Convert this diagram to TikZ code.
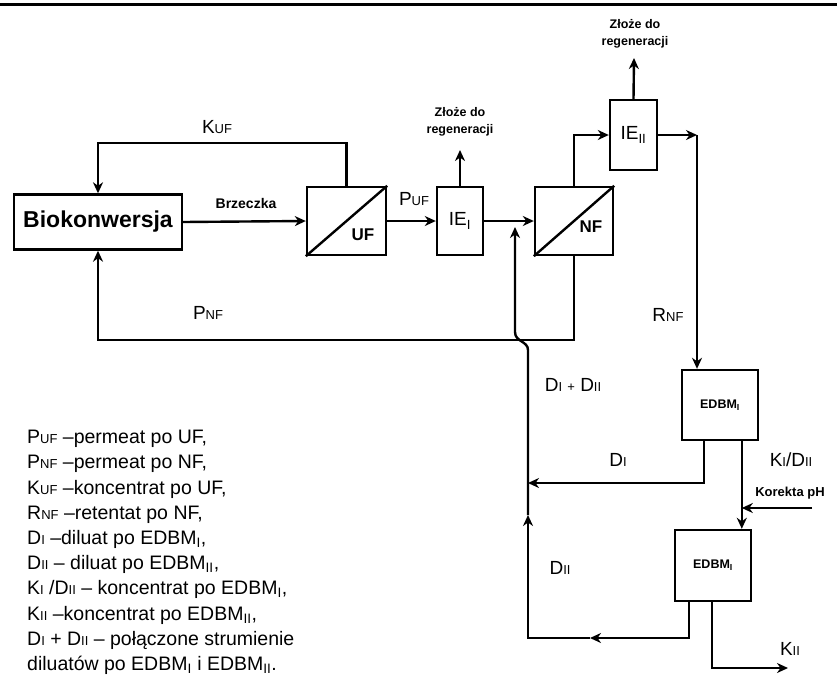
\documentclass[tikz,border=0pt]{standalone}
\usepackage{fontspec}
\setmainfont{Liberation Sans}
\usetikzlibrary{arrows.meta}
\newcommand\lo[1]{{\fontsize{13}{13}\selectfont #1}}
\tikzset{
  unit/.style={draw, line width=2.4pt, inner sep=0pt},
  pipe/.style={line width=2.4pt},
  flow/.style={pipe, -{Stealth[length=11pt,width=10pt,inset=3.5pt]}},
  lab/.style={font=\fontsize{19}{19}\selectfont},
  note/.style={font=\bfseries\fontsize{12.5}{17}\selectfont, align=center},
}

\begin{document}
\begin{tikzpicture}[x=1pt,y=-1pt]
  \useasboundingbox (0,0) rectangle (837,683);
  \draw[line width=3pt] (0,4) -- (837,4);

  \node[unit, minimum width=168pt, minimum height=55pt, font=\bfseries\fontsize{23}{23}\selectfont] (bio) at (98,222) {Biokonwersja};
  \node[unit, minimum width=79pt, minimum height=68pt] (uf) at (346.5,221) {};
  \node[unit, minimum width=46pt, minimum height=68pt, lab] (ie1) at (460,221) {IE\textsubscript{I}};
  \node[unit, minimum width=78pt, minimum height=68pt] (nf) at (574,221) {};
  \node[unit, minimum width=47pt, minimum height=70pt, lab] (ie2) at (633.5,135) {IE\textsubscript{II}};
  \node[unit, minimum width=76pt, minimum height=70pt, note] (ed1) at (720,405) {EDBM\textsubscript{I}};
  \node[unit, minimum width=76pt, minimum height=71pt, note] (ed2) at (713,565.5) {EDBM\textsubscript{I}};

  \draw[pipe] (uf.south west) -- (uf.north east);
  \draw[pipe] (nf.south west) -- (nf.north east);
  \node[font=\bfseries\fontsize{17}{17}\selectfont] at (363,235) {UF};
  \node[font=\bfseries\fontsize{17}{17}\selectfont] at (591,227) {NF};

  \coordinate (kuf) at (346.5,143);
  \coordinate (pnf) at (98,340);
  \coordinate (rnf) at (697,135);
  \coordinate (reg1) at (460,150);
  \coordinate (reg2) at (634,58);
  \coordinate (d1) at ([xshift=23pt]ed1.south west);
  \coordinate (k1) at ([xshift=61pt]ed1.south west);
  \coordinate (d2) at ([xshift=15pt]ed2.south west);
  \coordinate (k2) at ([xshift=38pt]ed2.south west);
  \coordinate (kor) at (812,508);
  \coordinate (kout) at (788,668);
  \coordinate (dj1) at (528,483);
  \coordinate (dmid) at (528,515);
  \coordinate (dlow) at (590,638);
  \coordinate (dtop) at (515,227);

  \draw[flow] (bio.east) -- (uf.west);
  \draw[flow] (uf.north) -- (kuf) -| (bio.north);
  \draw[flow] (uf.east) -- (ie1.west);
  \draw[flow] (ie1.east) -- (nf.west);
  \draw[flow] (ie1.north) -- (reg1);
  \draw[flow] (nf.north) |- (ie2.west);
  \draw[flow] (ie2.north) -- (reg2);
  \draw[flow] (ie2.east) -- (rnf);
  \draw[flow] (rnf) -- (rnf |- ed1.north);
  \draw[flow] (nf.south) |- (pnf) -- (bio.south);
  \draw[flow] (d1) |- (dj1);
  \draw[flow] (k1) -- (k1 |- ed2.north);
  \draw[flow] (kor) -- (kor -| k1);
  \draw[flow] (d2) |- (dlow);
  \draw[flow] (dlow) -| (dmid);
  \draw[flow] (dmid) -- (528,350) .. controls (528,341) and (515,342) .. (515,332) -- (dtop);
  \draw[flow] (k2) |- (kout);

  \node[lab] at (217,127) {K\lo{UF}};
  \node[font=\bfseries\fontsize{14}{14}\selectfont] at (246,203) {Brzeczka};
  \node[lab] at (414,199) {P\lo{UF}};
  \node[note] at (460,122) {Złoże do\\regeneracji};
  \node[note] at (635,34) {Złoże do\\regeneracji};
  \node[lab] at (208,313) {P\lo{NF}};
  \node[lab] at (668,315) {R\lo{NF}};
  \node[lab] at (573,385) {D\lo{I} \lo{+} D\lo{II}};
  \node[lab] at (618,460) {D\lo{I}};
  \node[lab] at (791,460) {K\lo{I}/D\lo{II}};
  \node[font=\bfseries\fontsize{13}{13}\selectfont] at (790,493) {Korekta pH};
  \node[lab] at (560,568) {D\lo{II}};
  \node[lab] at (790,649) {K\lo{II}};

  \node[anchor=north west, align=left, inner sep=0pt, font=\fontsize{19.5}{25.2}\selectfont] (leg) at (27,430) {%
    P\lo{UF} --permeat po UF,\\
    P\lo{NF} --permeat po NF,\\
    K\lo{UF} --koncentrat po UF,\\
    R\lo{NF} --retentat po NF,\\
    D\lo{I} --diluat po EDBM\textsubscript{I},\\
    D\lo{II} -- diluat po EDBM\textsubscript{II},\\
    K\lo{I} /D\lo{II} -- koncentrat po EDBM\textsubscript{I},\\
    K\lo{II} --koncentrat po EDBM\textsubscript{II},\\
    D\lo{I} + D\lo{II} -- połączone strumienie\\
    diluatów po EDBM\textsubscript{I} i EDBM\textsubscript{II}.};
\end{tikzpicture}
\end{document}
